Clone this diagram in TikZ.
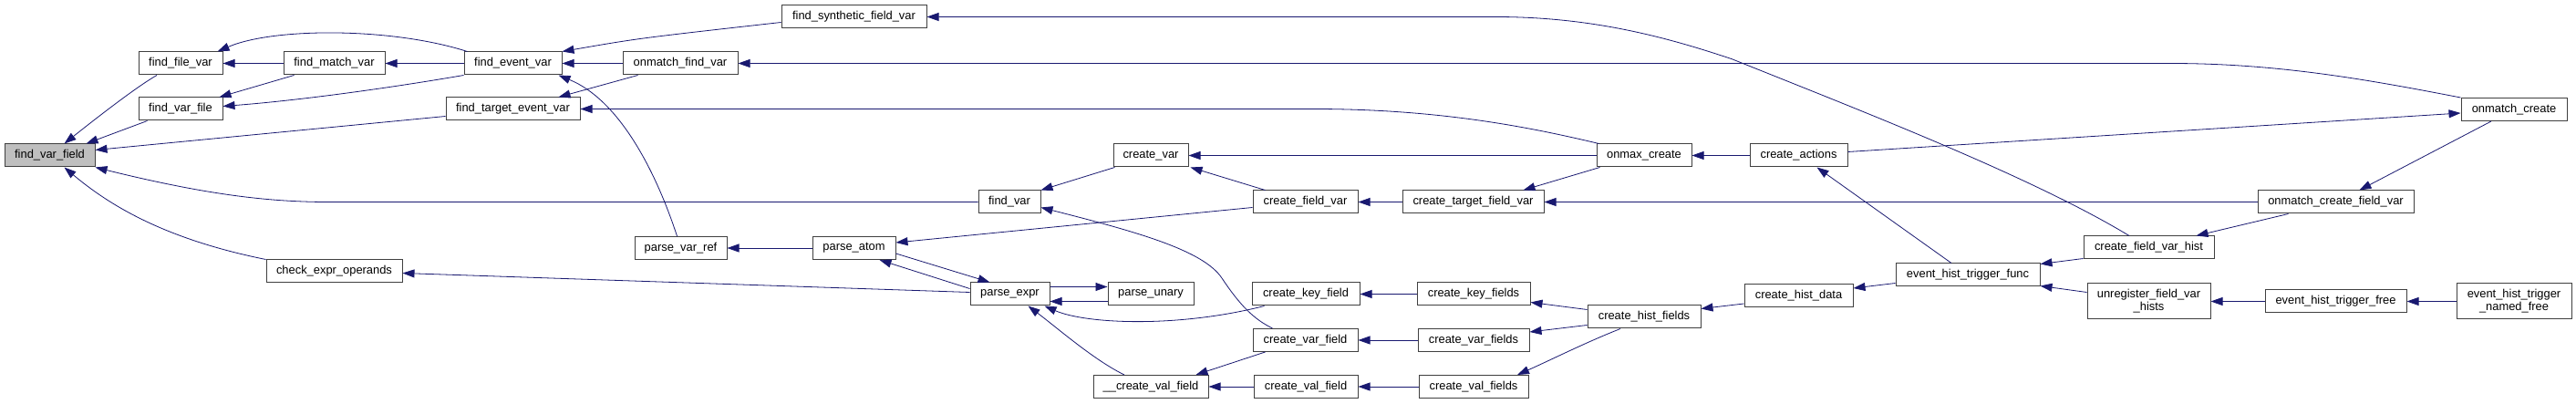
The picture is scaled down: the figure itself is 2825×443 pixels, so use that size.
\documentclass[tikz,border=0pt]{standalone}
\usepackage{fontspec}
\setmainfont{Liberation Sans}
\usetikzlibrary{arrows.meta,calc}
\definecolor{edgecol}{HTML}{191970}
\definecolor{boxline}{HTML}{404040}
\definecolor{hl}{HTML}{BFBFBF}
\begin{document}
\begin{tikzpicture}[x=1pt,y=-1pt,
  fn/.style={draw=boxline, line width=1pt, fill=white, inner sep=0pt,
    font=\fontsize{12.9}{14}\selectfont, minimum height=25pt},
  call/.style={draw=edgecol, line width=0.8pt, {Triangle[length=13pt,width=9pt]}-},
  fwd/.style={draw=edgecol, line width=0.8pt, -{Triangle[length=13pt,width=9pt]}}]
\useasboundingbox (0,0) rectangle (2825,443);
% nodes
\node[fn, fill=hl, minimum width=99pt] (fvf) at (54.5,170.5) {find\_var\_field};
\node[fn, minimum width=92pt] (ffv) at (198,69.5) {find\_file\_var};
\node[fn, minimum width=92pt] (fvfile) at (198,119.5) {find\_var\_file};
\node[fn, minimum width=111pt] (fmv) at (366.5,69.5) {find\_match\_var};
\node[fn, minimum width=149pt] (ceo) at (366.5,297.5) {check\_expr\_operands};
\node[fn, minimum width=107pt] (fev) at (562.5,69.5) {find\_event\_var};
\node[fn, minimum width=126pt] (omfv) at (746,69.5) {onmatch\_find\_var};
\node[fn, minimum width=147pt] (ftev) at (562.5,119.5) {find\_target\_event\_var};
\node[fn, minimum width=159pt] (fsfv) at (936.5,18.5) {find\_synthetic\_field\_var};
\node[fn, minimum width=101pt] (pvr) at (746.5,272) {parse\_var\_ref};
\node[fn, minimum width=91pt] (pa) at (936.5,272) {parse\_atom};
\node[fn, minimum width=82pt] (cv) at (1262,170.5) {create\_var};
\node[fn, minimum width=68pt] (fv) at (1107,221.5) {find\_var};
\node[fn, minimum width=87pt] (pe) at (1107.5,322.5) {parse\_expr};
\node[fn, minimum width=94pt] (pu) at (1262,322.5) {parse\_unary};
\node[fn, minimum width=126pt] (cvfu) at (1262,424) {\_\_create\_val\_field};
\node[fn, minimum width=115pt] (cfv) at (1431.5,221.5) {create\_field\_var};
\node[fn, minimum width=118pt] (ckf) at (1432,322.5) {create\_key\_field};
\node[fn, minimum width=115pt] (cvarf) at (1431.5,373) {create\_var\_field};
\node[fn, minimum width=114pt] (cvalf) at (1432,424) {create\_val\_field};
\node[fn, minimum width=104pt] (omc) at (1803,170.5) {onmax\_create};
\node[fn, minimum width=155pt] (ctfv) at (1615.5,221.5) {create\_target\_field\_var};
\node[fn, minimum width=124pt] (ckfs) at (1616,322.5) {create\_key\_fields};
\node[fn, minimum width=122pt] (cvarfs) at (1616,373) {create\_var\_fields};
\node[fn, minimum width=120pt] (cvalfs) at (1616,424) {create\_val\_fields};
\node[fn, minimum width=124pt] (chf) at (1803,347.5) {create\_hist\_fields};
\node[fn, minimum width=107pt] (ca) at (1972.5,170.5) {create\_actions};
\node[fn, minimum width=158pt] (ehtf) at (2158,301.5) {event\_hist\_trigger\_func};
\node[fn, minimum width=119pt] (chd) at (1972.5,324) {create\_hist\_data};
\node[fn, minimum width=143pt] (cfvh) at (2356.5,271.5) {create\_field\_var\_hist};
\node[fn, minimum width=135pt, minimum height=39pt, align=center] (ufvh) at (2356.5,330.5) {unregister\_field\_var\\\_hists};
\node[fn, minimum width=116pt] (omcr) at (2757,120) {onmatch\_create};
\node[fn, minimum width=171pt] (omcfv) at (2561.5,221.5) {onmatch\_create\_field\_var};
\node[fn, minimum width=155pt] (ehtfree) at (2561.5,330.5) {event\_hist\_trigger\_free};
\node[fn, minimum width=126pt, minimum height=39pt, align=center] (ehtnf) at (2757,330.5) {event\_hist\_trigger\\\_named\_free};
% edges into find_var_field
\draw[call] ($(fvf.north)+(16,0)$) .. controls (105,130) and (150,95) .. ($(ffv.south)+(-26,0)$);
\draw[call] ($(fvf.north east)+(-10,0)$) -- ($(fvfile.south west)+(10,0)$);
\draw[call] ($(fvf.east)+(0,-6)$) -- ($(ftev.west)+(0,8)$);
\draw[call] (fvf.south east) .. controls (220,212) and (290,221.5) .. (360,221.5) -- (fv.west);
\draw[call] ($(fvf.south)+(16,0)$) .. controls (120,225) and (180,262) .. (ceo.north west);
% find_file_var / find_var_file
\draw[call] (ffv.east) -- (fmv.west);
\draw[call] ($(ffv.north east)+(-6,0)$) .. controls (300,30) and (430,30) .. ($(fev.north west)+(4,0)$);
\draw[call] ($(fvfile.north east)+(-4,0)$) -- ($(fmv.south west)+(12,0)$);
\draw[call] ($(fvfile.east)+(0,-3)$) .. controls (330,110) and (430,96) .. (fev.south west);
% find_event_var
\draw[call] (fev.north east) .. controls (700,42) .. ($(fsfv.west)+(0,6)$);
\draw[call] (fev.east) -- (omfv.west);
\draw[call] ($(fev.south east)+(-4,0)$) .. controls (680,110) and (720,190) .. ($(pvr.north)+(-4,0)$);
\draw[call] (fmv.east) -- (fev.west);
% find_target_event_var
\draw[call] ($(ftev.north east)+(-24,0)$) -- ($(omfv.south west)+(17,0)$);
\draw[call] (ftev.east) -- (1440,119.5) .. controls (1580,119.5) and (1680,140) .. ($(omc.north west)+(3,0)$);
% long top edges
\draw[call] (fsfv.east) -- (1640,18.5) .. controls (1740,18.5) and (1820,38) .. (1900,65)
  .. controls (2050,125) and (2230,195) .. ($(cfvh.north)+(-21.5,0)$);
\draw[call] (omfv.east) -- (2380,69.5) .. controls (2500,69.5) and (2600,88) .. (omcr.north west);
% parse chain
\draw[call] (pvr.east) -- (pa.west);
\draw[call] ($(ceo.east)+(0,2)$) -- ($(pe.west)+(0,-2)$);
\draw[call] ($(pa.east)+(0,-6)$) -- ($(cfv.west)+(0,6)$);
\draw[call] ($(pa.south east)+(-18,0)$) -- ($(pe.west)+(0,-6)$);
\draw[call] ($(pe.north)+(-22,0)$) -- ($(pa.east)+(0,6)$);
\draw[fwd] ($(pe.east)+(0,-8)$) -- ($(pu.west)+(0,-8)$);
\draw[call] ($(pe.east)+(0,8)$) -- ($(pu.west)+(0,8)$);
\draw[call] ($(pe.south)+(20,0)$) .. controls (1160,360) and (1200,395) .. ($(cvfu.north)+(-29,0)$);
\draw[call] ($(pe.south east)+(-6,0)$) .. controls (1190,355) and (1290,360) .. ($(ckf.south west)+(14,0)$);
% find_var / create_var
\draw[call] (fv.north east) -- ($(cv.south west)+(2,0)$);
\draw[call] ($(fv.east)+(0,6)$) .. controls (1250,255) and (1320,275) .. (1340,305)
  .. controls (1360,335) and (1375,350) .. ($(cvarf.north)+(-36,0)$);
\draw[call] (cv.east) -- (omc.west);
\draw[call] ($(cv.south east)+(2,0)$) -- ($(cfv.north west)+(14,0)$);
\draw[call] (cfv.east) -- (ctfv.west);
\draw[call] ($(ctfv.north)+(55,0)$) -- ($(omc.south west)+(4,0)$);
\draw[call] (ctfv.east) -- (omcfv.west);
\draw[call] (omc.east) -- (ca.west);
% right part
\draw[call] ($(ca.south)+(20,0)$) -- ($(ehtf.north)+(-18,0)$);
\draw[fwd] ($(ca.east)+(0,-4)$) -- ($(omcr.west)+(0,4)$);
\draw[call] ($(omcfv.north)+(26,0)$) -- ($(omcr.south)+(-25,0)$);
\draw[call] ($(cfvh.north)+(52,0)$) -- ($(omcfv.south west)+(34,0)$);
\draw[call] ($(ehtf.east)+(0,-12)$) -- ($(cfvh.west)+(0,12)$);
\draw[call] ($(ehtf.east)+(0,12)$) -- ($(ufvh.west)+(0,-10)$);
\draw[call] (ufvh.east) -- (ehtfree.west);
\draw[call] (ehtfree.east) -- (ehtnf.west);
\draw[call] ($(chd.east)+(0,-8)$) -- ($(ehtf.west)+(0,9)$);
\draw[call] ($(chf.east)+(0,-9)$) -- ($(chd.west)+(0,9)$);
\draw[call] ($(ckfs.east)+(0,9)$) -- ($(chf.west)+(0,-8)$);
\draw[call] ($(cvarfs.east)+(0,-9)$) -- ($(chf.west)+(0,9)$);
\draw[call] ($(cvalfs.north)+(48,0)$) .. controls (1700,395) and (1740,375) .. ($(chf.south)+(-26,0)$);
\draw[call] (ckf.east) -- (ckfs.west);
\draw[call] (cvarf.east) -- (cvarfs.west);
\draw[call] (cvalf.east) -- (cvalfs.west);
\draw[call] (cvfu.east) -- (cvalf.west);
\draw[call] ($(cvfu.north east)+(-14,0)$) -- ($(cvarf.south west)+(14,0)$);
\end{tikzpicture}
\end{document}
